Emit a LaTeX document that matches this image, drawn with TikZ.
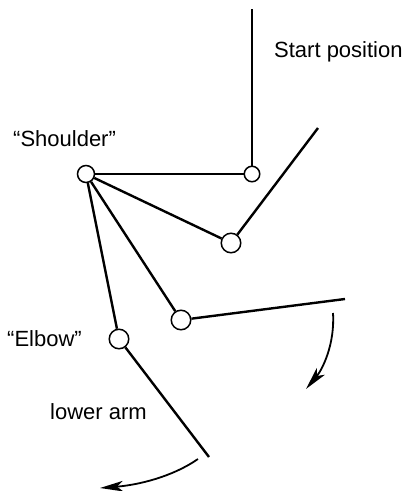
\documentclass[tikz,border=0pt]{standalone}
\usepackage{fontspec}
\setmainfont{Liberation Sans}
\usetikzlibrary{arrows.meta}
\begin{document}
\begin{tikzpicture}[x=1pt,y=-1pt,
  joint/.style={circle,draw,line width=1.5pt,inner sep=0pt,fill=white},
  thinarm/.style={line width=1.6pt},
  arm/.style={line width=2.4pt},
  headtip/.tip={Stealth[length=23pt,width=10.5pt,inset=6pt]},
  move/.style={line width=1.8pt,-headtip},
  lab/.style={inner sep=0pt,font=\fontsize{22}{26}\selectfont,anchor=base west}]
\useasboundingbox (0,0) rectangle (408,491);
% joints
\node[joint,minimum size=17pt] (sh) at (86,174) {};
\node[joint,minimum size=15.5pt] (e0) at (252,174) {};
\node[joint,minimum size=19.5pt] (e1) at (231,243) {};
\node[joint,minimum size=19.5pt] (e2) at (181,320) {};
\node[joint,minimum size=19.5pt] (e3) at (119,339) {};
% free ends
\coordinate (h0) at (252,9);
\coordinate (h1) at (318,128);
\coordinate (h2) at (345,299);
\coordinate (h3) at (209,457);
% arms
\draw[thinarm] (sh) -- (e0);
\draw[thinarm] (e0) -- (h0);
\draw[arm] (sh) -- (e1);
\draw[arm] (e1) -- (h1);
\draw[arm] (sh) -- (e2);
\draw[arm] (e2) -- (h2);
\draw[arm] (sh) -- (e3);
\draw[arm] (e3) -- (h3);
% movement arrows
\coordinate (a1s) at (333,313);
\coordinate (a1e) at (306,389);
\coordinate (a2s) at (198,459);
\coordinate (a2e) at (100,488);
\draw[move] (a1s) .. controls (335,345) and (322,370) .. (a1e);
\draw[move] (a2s) .. controls (172,477) and (138,485) .. (a2e);
% labels
\node[lab] (tstart) at (274,57) {Start position};
\node[lab] (tsh) at (13,146) {“Shoulder”};
\node[lab] (tel) at (7,346) {“Elbow”};
\node[lab] (tlow) at (50,419) {lower arm};
\end{tikzpicture}
\end{document}
